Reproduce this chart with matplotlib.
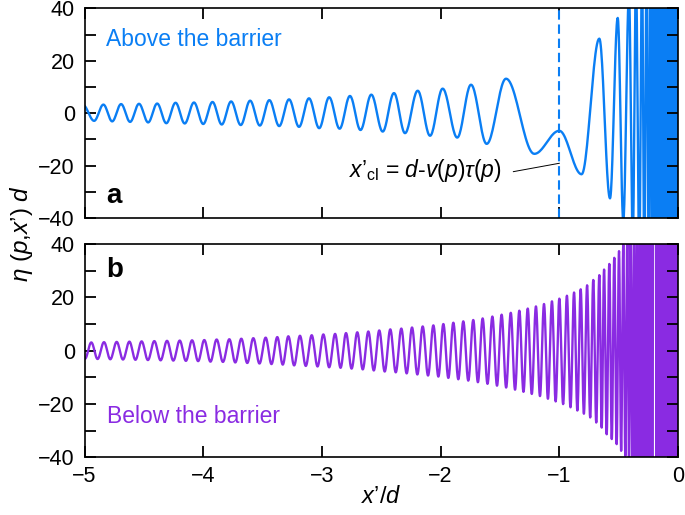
"""Oscillating eta(p, x') above and below the barrier, two stacked panels."""
import numpy as np
import matplotlib
matplotlib.use("Agg")
import matplotlib.pyplot as plt
from matplotlib.ticker import MultipleLocator

plt.rcParams['font.family'] = 'Liberation Sans'
plt.rcParams['mathtext.fontset'] = 'custom'
plt.rcParams['mathtext.rm'] = 'Liberation Sans'
plt.rcParams['mathtext.it'] = 'Liberation Sans:italic'
plt.rcParams['mathtext.bf'] = 'Liberation Sans:bold'

# panel a: extrema (alternating max / min)
above_x = [-5.014, -4.919, -4.841, -4.767, -4.692, -4.616, -4.541, -4.464, -4.388, -4.311,
           -4.233, -4.156, -4.078, -4.000, -3.922, -3.844, -3.765, -3.684, -3.605, -3.523,
           -3.443, -3.360, -3.277, -3.193, -3.109, -3.023, -2.939, -2.851, -2.764, -2.675,
           -2.584, -2.488, -2.393, -2.300, -2.193, -2.089, -1.983, -1.860, -1.744, -1.612,
           -1.449, -1.211, -1.000, -0.812, -0.663, -0.573, -0.508, -0.461, -0.413, -0.381,
           -0.354, -0.326, -0.303, -0.284, -0.264, -0.246, -0.230, -0.216, -0.202, -0.188,
           -0.180]
above_y = [3.2, -2.9, 3.3, -3.1, 3.5, -3.3, 3.6, -3.5, 3.7, -3.8,
           4.0, -3.9, 4.1, -4.1, 4.3, -4.3, 4.5, -4.5, 4.8, -4.7,
           5.0, -4.9, 5.3, -5.2, 5.7, -5.7, 6.1, -5.9, 6.6, -6.4,
           7.1, -7.0, 7.7, -7.6, 8.6, -8.6, 9.4, -9.3, 10.9, -11.7,
           13.2, -15.5, -6.7, -23.3, 28.5, -32.5, 36.4, -41, 45, -48,
           51, -54, 57, -60, 63, -66, 69, -72, 75, -78,
           81]
above_dense_from = -0.173   # lines merge into a solid band from here to 0
x_cl = -1.0

# panel b: maxima and minima
below_peak_x = [-4.943, -4.836, -4.729, -4.622, -4.519, -4.412, -4.305, -4.198, -4.094, -3.991,
                -3.887, -3.780, -3.679, -3.578, -3.474, -3.376, -3.283, -3.185, -3.086, -2.988,
                -2.889, -2.797, -2.702, -2.609, -2.517, -2.424, -2.331, -2.241, -2.151, -2.061,
                -1.977, -1.893, -1.809, -1.725, -1.646, -1.564, -1.486, -1.409, -1.337, -1.266,
                -1.197, -1.129, -1.062, -1.000, -0.936, -0.876, -0.820, -0.766, -0.714, -0.663,
                -0.623, -0.579, -0.537, -0.497, -0.461, -0.427, -0.399, -0.370, -0.345, -0.320,
                -0.298, -0.278, -0.259, -0.241, -0.225, -0.208]
below_peak_y = [3.1, 3.2, 3.3, 3.4, 3.5, 3.6, 3.7, 3.8, 3.9, 4.0,
                4.2, 4.3, 4.5, 4.7, 4.9, 5.1, 5.4, 5.6, 5.8, 6.1,
                6.3, 6.6, 6.9, 7.2, 7.6, 8.0, 8.3, 8.7, 9.1, 9.5,
                10.0, 10.5, 11.0, 11.5, 12.1, 12.8, 13.5, 14.2, 15.0, 15.8,
                16.6, 17.5, 18.5, 19.5, 20.6, 21.8, 23.0, 24.5, 26.5, 28.3,
                30.4, 32.5, 34.8, 37.3, 39.8, 43, 46, 49, 52, 55,
                58, 61, 64, 67, 70, 73]
below_trough_x = [-4.996, -4.890, -4.783, -4.676, -4.571, -4.466, -4.359, -4.252, -4.146, -4.043,
                  -3.939, -3.834, -3.730, -3.629, -3.526, -3.425, -3.330, -3.234, -3.136, -3.037,
                  -2.939, -2.843, -2.750, -2.656, -2.563, -2.471, -2.378, -2.286, -2.196, -2.106,
                  -2.019, -1.935, -1.851, -1.767, -1.686, -1.605, -1.525, -1.448, -1.373, -1.302,
                  -1.232, -1.163, -1.096, -1.031, -0.968, -0.906, -0.848, -0.793, -0.740, -0.689,
                  -0.643, -0.601, -0.558, -0.517, -0.479, -0.444, -0.413, -0.385, -0.358, -0.333,
                  -0.309, -0.288, -0.269, -0.250, -0.233, -0.217]
below_trough_y = [-3.0, -3.1, -3.2, -3.3, -3.4, -3.5, -3.6, -3.7, -3.8, -3.9,
                  -4.1, -4.2, -4.4, -4.6, -4.8, -5.0, -5.2, -5.5, -5.7, -5.9,
                  -6.2, -6.4, -6.7, -7.0, -7.4, -7.8, -8.1, -8.5, -8.9, -9.3,
                  -9.7, -10.2, -10.7, -11.2, -11.8, -12.4, -13.1, -13.8, -14.6, -15.4,
                  -16.2, -17.0, -18.0, -19.0, -20.0, -21.2, -22.4, -23.6, -25.0, -26.9,
                  -28.8, -31.3, -33.1, -35.0, -37.5, -39.4, -42, -45, -48, -51,
                  -54, -57, -60, -63, -66, -69]
below_dense_from = -0.194

x_ticks = [-5, -4, -3, -2, -1, 0]
y_ticks = [-40, -20, 0, 20, 40]

BLUE = '#0a7ef4'
PURPLE = '#8a2be2'


def smooth_through(xs, ys, n=24):
    """Join the extrema with half-cosine arcs so the wave stays round."""
    xs = np.asarray(xs, float)
    ys = np.asarray(ys, float)
    order = np.argsort(xs)
    xs, ys = xs[order], ys[order]
    t = np.linspace(0, 1, n)[1:]
    px, py = [xs[0]], [ys[0]]
    for x0, x1, y0, y1 in zip(xs[:-1], xs[1:], ys[:-1], ys[1:]):
        px.extend(x0 + (x1 - x0) * t)
        py.extend(y0 + (y1 - y0) * (1 - np.cos(np.pi * t)) / 2)
    return np.array(px), np.array(py)


def style_axis(ax):
    ax.set_xlim(-5, 0)
    ax.set_ylim(-40, 40)
    ax.set_xticks(x_ticks)
    ax.set_yticks(y_ticks)
    ax.yaxis.set_minor_locator(MultipleLocator(10))
    ax.tick_params(which='both', direction='in', top=True, right=True,
                   length=8, width=1.3, labelsize=15.5)
    ax.tick_params(axis='y', pad=7)
    ax.tick_params(axis='x', pad=6)
    for s in ax.spines.values():
        s.set_linewidth(1.2)


fig = plt.figure(figsize=(6.85, 5.15), dpi=100)
ax_a = fig.add_axes([0.1234, 0.5767, 0.8664, 0.4068])
ax_b = fig.add_axes([0.1234, 0.1117, 0.8664, 0.4146])

# panel a
xa, ya = smooth_through(above_x, above_y)
ax_a.plot(xa, ya, color=BLUE, lw=1.7)
ax_a.axvspan(above_dense_from, 0, color=BLUE, lw=0)
ax_a.axvline(x_cl, color=BLUE, lw=1.5, ls=(0, (4.5, 2.3)))
ax_a.plot([-1.387, x_cl], [-22.3, -19.1], color='black', lw=0.7)
ax_a.text(-1.485, -24.5, "$x\u2019_{\\rm cl}$ = $d$-$v$($p$)$\\tau$($p$)",
          ha='right', va='baseline', fontsize=16.5)
ax_a.text(-4.819, 28.1, 'Above the barrier', color=BLUE, fontsize=16.5,
          ha='left', va='center')
ax_a.text(-4.813, -34.4, 'a', fontsize=20, fontweight='bold', va='baseline')
style_axis(ax_a)
ax_a.tick_params(axis='x', labelbottom=False)

# panel b
xb, yb = smooth_through(below_peak_x + below_trough_x, below_peak_y + below_trough_y)
ax_b.plot(xb, yb, color=PURPLE, lw=1.7)
ax_b.axvspan(below_dense_from, 0, color=PURPLE, lw=0)
ax_b.text(-4.81, -24.6, 'Below the barrier', color=PURPLE, fontsize=16.5,
          ha='left', va='center')
ax_b.text(-4.813, 27.8, 'b', fontsize=20, fontweight='bold', va='baseline')
style_axis(ax_b)

fig.text(0.032, 0.546, "$\\eta$ ($p$,$x\u2019$) $d$", rotation=90, ha='center',
         va='center', fontsize=17.5)
fig.text(0.556, 0.035, "$x\u2019$/$d$", ha='center', va='center', fontsize=17)

fig.savefig('out.png', dpi=100)
